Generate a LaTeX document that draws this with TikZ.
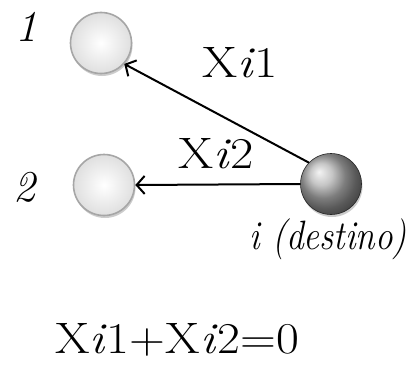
\documentclass[tikz,border=0pt]{standalone}
\usepackage{fontspec}
\usetikzlibrary{arrows.meta,shadows}
\begin{document}
\begin{tikzpicture}[x=1pt,y=-1pt,
  lightnode/.style={circle, minimum size=61pt, inner sep=0pt, draw=gray!70, line width=1.6pt,
    inner color=white, outer color=gray!25,
    drop shadow={shadow xshift=1pt,shadow yshift=-2.5pt,opacity=0.4}},
  darknode/.style={circle, minimum size=61pt, inner sep=0pt, ball color=gray!60,
    draw=gray!30!black, line width=0.6pt,
    drop shadow={shadow xshift=1pt,shadow yshift=-2.5pt,opacity=0.4}},
  edge/.style={-{Straight Barb[length=8pt,width=18pt,line width=2pt]}, line width=2pt},
  lbl/.style={font=\fontsize{44}{44}\selectfont, inner sep=0pt},
  dlbl/.style={font=\fontsize{41}{41}\selectfont, inner sep=0pt}]
\useasboundingbox[fill=white] (0,0) rectangle (411,364);
\node[lightnode] (n1) at (101,43) {};
\node[lightnode] (n2) at (104,185) {};
\node[darknode] (ni) at (331,184) {};
\node[lbl] (l1) at (27,27) {\textit{1}};
\node[lbl] (l2) at (25,187) {\textit{2}};
\node[lbl] (x1) at (240,63) {\scalebox{1.15}[1]{X\textit{i}1}};
\node[lbl] (x2) at (216,154) {\scalebox{1.15}[1]{X\textit{i}2}};
\node[dlbl] (li) at (328,239) {\scalebox{0.86}[1]{\textit{i (destino)}}};
\node[lbl] (eq) at (177,340) {\scalebox{1.13}[1]{X\textit{i}1+X\textit{i}2=0}};
\draw[edge] (ni.136) -- (n1.-42);
\draw[edge] (ni.west) -- (n2.east);
\end{tikzpicture}
\end{document}
